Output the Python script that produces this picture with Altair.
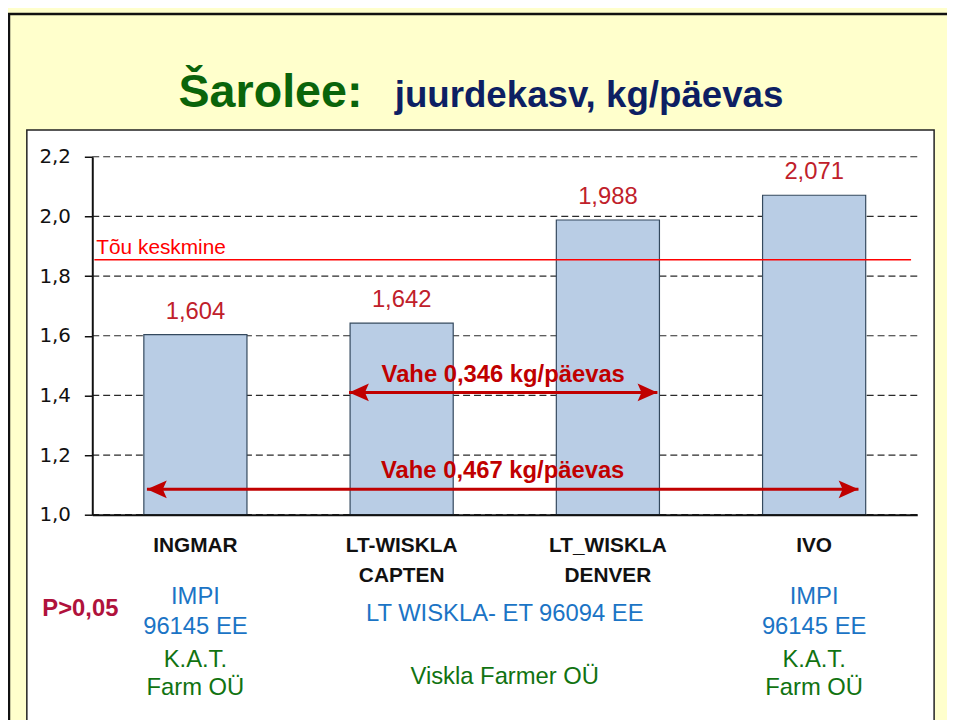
import altair as alt
import pandas as pd

# ---------------- data ----------------
categories = ["INGMAR", "LT-WISKLA CAPTEN", "LT_WISKLA DENVER", "IVO"]
gains = [1.604, 1.642, 1.988, 2.071]
breed_average = 1.855
breed_label = "Tõu keskmine"
y_ticks = [1.0, 1.2, 1.4, 1.6, 1.8, 2.0, 2.2]

diff_labels = ["Vahe 0,346 kg/päevas", "Vahe 0,467 kg/päevas"]
diff_y = [1.41, 1.085]
diff_start = [1.245, 0.265]   # in category-index units (0..4)
diff_end = [2.74, 3.715]

sire_labels = ["IMPI\n96145 EE", "IMPI\n96145 EE"]
sire_pos = [0.5, 3.5]
sire_shared = ["LT WISKLA- ET 96094 EE"]
sire_shared_pos = [2.0]
farm_labels = ["K.A.T.\nFarm OÜ", "K.A.T.\nFarm OÜ"]
farm_pos = [0.5, 3.5]
farm_shared = ["Viskla Farmer OÜ"]
farm_shared_pos = [2.0]

title_main = "Šarolee:"
title_sub = "juurdekasv, kg/päevas"
p_note = "P>0,05"

FONT = "Liberation Sans, Arial, sans-serif"
W, H = 832, 361
PAD = {"left": 85, "top": 147, "right": 30, "bottom": 204}

bars_df = pd.DataFrame({"breed": categories, "gain": gains})
grid_df = pd.DataFrame({"v": y_ticks})
avg_df = pd.DataFrame({"v": [breed_average], "x0": [0.01], "x1": [3.97], "label": [breed_label]})
diff_df = pd.DataFrame({"label": diff_labels, "y": diff_y, "x0": diff_start, "x1": diff_end})
diff_df["xm"] = (diff_df["x0"] + diff_df["x1"]) / 2

qx = alt.Scale(domain=[0, 4], nice=False, zero=False)
ysc = alt.Scale(domain=[1.0, 2.2], nice=False, zero=False)

y_axis = alt.Axis(title=None, values=y_ticks, grid=False,
                  labelExpr="replace(format(datum.value, '.1f'), '.', ',')",
                  labelFont="DejaVu Sans", labelFontSize=20, labelColor="#111",
                  labelPadding=14, tickSize=8, tickColor="#111", tickWidth=1.5,
                  domainColor="#111", domainWidth=2, zindex=1)

# frames
outer = alt.Chart(pd.DataFrame({"a": [0]})).mark_rect(
    fill="transparent", stroke="#111", strokeWidth=2.5
).encode(x=alt.value(-84), x2=alt.value(W + 40), y=alt.value(-144), y2=alt.value(H + 240))

panel = alt.Chart(pd.DataFrame({"a": [0]})).mark_rect(
    fill="white", stroke="#222", strokeWidth=1.5
).encode(x=alt.value(-66), x2=alt.value(849), y=alt.value(-27), y2=alt.value(H + 240))

grid = alt.Chart(grid_df).mark_rule(
    color="#2a2a2a", strokeDash=[7, 4], strokeWidth=1.2
).encode(y=alt.Y("v:Q", scale=ysc, axis=y_axis))

bars = alt.Chart(bars_df).mark_bar(
    color="#B9CDE5", stroke="#34495E", strokeWidth=1.2
).encode(
    x=alt.X("breed:N", sort=categories,
            scale=alt.Scale(paddingInner=0.5, paddingOuter=0.25),
            axis=alt.Axis(title=None, labelAngle=0, labelExpr="split(datum.label, ' ')",
                          labelFont=FONT, labelFontWeight="bold", labelFontSize=21,
                          labelColor="#111", labelLineHeight=30, labelPadding=20,
                          ticks=False, tickSize=0, domainColor="#111", domainWidth=2,
                          zindex=1)),
    y=alt.Y("gain:Q", scale=ysc),
    y2=alt.datum(1.0),
)

value_labels = alt.Chart(bars_df).transform_calculate(
    txt="replace(format(datum.gain, '.3f'), '.', ',')"
).mark_text(
    font=FONT, fontSize=24, color="#C0202A", baseline="alphabetic", dy=-16
).encode(x=alt.X("breed:N", sort=categories), y=alt.Y("gain:Q", scale=ysc), text="txt:N")

avg_line = alt.Chart(avg_df).mark_rule(color="#FF0000", strokeWidth=1.5).encode(
    x=alt.X("x0:Q", scale=qx, axis=None), x2="x1:Q", y=alt.Y("v:Q", scale=ysc)
)
avg_text = alt.Chart(avg_df).mark_text(
    font=FONT, fontSize=21, color="#FF0000", align="left", baseline="alphabetic", dx=2, dy=-6
).encode(x=alt.X("x0:Q", scale=qx, axis=None), y=alt.Y("v:Q", scale=ysc), text="label:N")

ARROW = "#C00000"
arrow_line = alt.Chart(diff_df).mark_rule(color=ARROW, strokeWidth=3).encode(
    x=alt.X("x0:Q", scale=qx, axis=None), x2="x1:Q", y=alt.Y("y:Q", scale=ysc)
)
head_right = alt.Chart(diff_df).mark_point(
    shape="M0,0 L-1,-0.45 L-0.8,0 L-1,0.45 Z", filled=True, opacity=1, size=1600, color=ARROW
).encode(x=alt.X("x1:Q", scale=qx, axis=None), y=alt.Y("y:Q", scale=ysc))
head_left = alt.Chart(diff_df).mark_point(
    shape="M0,0 L1,-0.45 L0.8,0 L1,0.45 Z", filled=True, opacity=1, size=1600, color=ARROW
).encode(x=alt.X("x0:Q", scale=qx, axis=None), y=alt.Y("y:Q", scale=ysc))
diff_text = alt.Chart(diff_df).mark_text(
    font=FONT, fontSize=24, fontWeight="bold", color=ARROW, baseline="alphabetic", dy=-11
).encode(x=alt.X("xm:Q", scale=qx, axis=None), y=alt.Y("y:Q", scale=ysc), text="label:N")

BLUE = "#1B74C5"
GREEN = "#117311"
sire_multi = alt.Chart(pd.DataFrame({"t": sire_labels, "p": sire_pos})).mark_text(
    font=FONT, fontSize=24, color=BLUE, baseline="alphabetic", lineBreak="\n", lineHeight=30
).encode(x=alt.X("p:Q", scale=qx, axis=None), y=alt.value(451), text="t:N")
sire_single = alt.Chart(pd.DataFrame({"t": sire_shared, "p": sire_shared_pos})).mark_text(
    font=FONT, fontSize=24, color=BLUE, baseline="alphabetic"
).encode(x=alt.X("p:Q", scale=qx, axis=None), y=alt.value(468), text="t:N")
farm_multi = alt.Chart(pd.DataFrame({"t": farm_labels, "p": farm_pos})).mark_text(
    font=FONT, fontSize=24, color=GREEN, baseline="alphabetic", lineBreak="\n", lineHeight=28
).encode(x=alt.X("p:Q", scale=qx, axis=None), y=alt.value(515), text="t:N")
farm_single = alt.Chart(pd.DataFrame({"t": farm_shared, "p": farm_shared_pos})).mark_text(
    font=FONT, fontSize=24, color=GREEN, baseline="alphabetic"
).encode(x=alt.X("p:Q", scale=qx, axis=None), y=alt.value(532), text="t:N")

p_text = alt.Chart(pd.DataFrame({"t": [p_note]})).mark_text(
    font=FONT, fontSize=24, fontWeight="bold", color="#B0123C", baseline="alphabetic"
).encode(x=alt.value(-12), y=alt.value(463), text="t:N")

title1 = alt.Chart(pd.DataFrame({"t": [title_main]})).mark_text(
    font=FONT, fontSize=47, fontWeight="bold", color="#0A640A", align="left", baseline="alphabetic"
).encode(x=alt.value(87), y=alt.value(-50), text="t:N")
title2 = alt.Chart(pd.DataFrame({"t": [title_sub]})).mark_text(
    font=FONT, fontSize=37, fontWeight="bold", color="#0D1F63", align="left", baseline="alphabetic"
).encode(x=alt.value(305), y=alt.value(-50), text="t:N")

chart = alt.layer(
    outer, panel, grid, bars, avg_line, avg_text, value_labels,
    arrow_line, head_right, head_left, diff_text,
    sire_multi, sire_single, farm_multi, farm_single, p_text, title1, title2,
).resolve_scale(x="independent").properties(
    width=W, height=H, autosize=alt.AutoSizeParams(type="none"), padding=PAD,
    background="#FFFFCC",
).configure_view(stroke="transparent")

chart.save("out.html", embed_options={"renderer": "svg", "actions": False})
